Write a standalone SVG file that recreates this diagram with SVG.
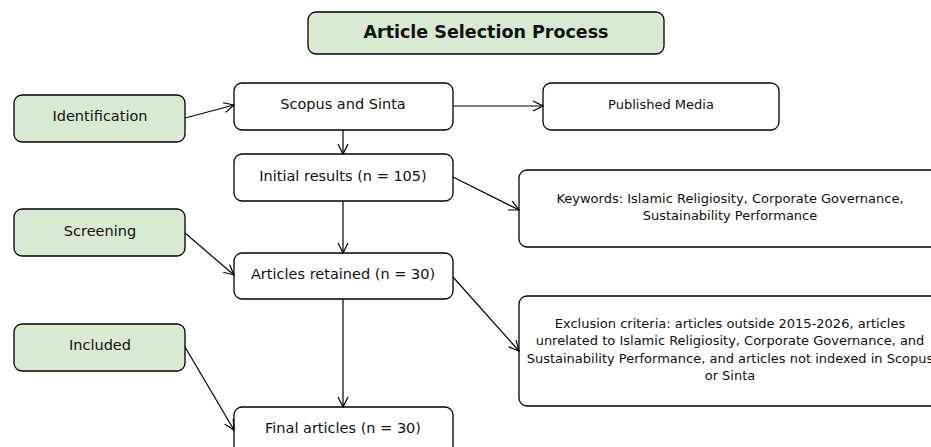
<svg xmlns="http://www.w3.org/2000/svg" width="931" height="447" viewBox="0 0 931 447">
<defs>
<style>
.box{fill:#ffffff;stroke:#000000;stroke-width:1.3}
.stage{fill:#d9ead3;stroke:#000000;stroke-width:1.3}
text{font-family:"DejaVu Sans",sans-serif;fill:#111111;text-anchor:middle}
.t13{font-size:14.5px}
.t11{font-size:13px}
.title{font-size:17.5px;font-weight:bold}
.conn line{stroke:#000000;stroke-width:1.2;fill:none;marker-end:url(#arr)}
</style>
<marker id="arr" viewBox="0 0 12 12" refX="11" refY="6" markerWidth="12" markerHeight="12" markerUnits="userSpaceOnUse" orient="auto">
<path d="M1,1 L11,6 L1,11" fill="none" stroke="#000000" stroke-width="1.2"/>
</marker>
</defs>
<rect width="931" height="447" fill="#ffffff"/>
<g id="title"><rect class="stage" x="308" y="12" width="356" height="42" rx="8"/><text class="title" x="486" y="38">Article Selection Process</text></g>
<g id="identification"><rect class="stage" x="14" y="95" width="171" height="47" rx="8"/><text class="t13" x="100" y="121">Identification</text></g>
<g id="screening"><rect class="stage" x="14" y="209" width="171" height="47" rx="8"/><text class="t13" x="100" y="236">Screening</text></g>
<g id="included"><rect class="stage" x="14" y="324" width="171" height="47" rx="8"/><text class="t13" x="100" y="350">Included</text></g>
<g id="scopus"><rect class="box" x="234" y="83" width="219" height="47" rx="8"/><text class="t13" x="343" y="109">Scopus and Sinta</text></g>
<g id="published"><rect class="box" x="543" y="83" width="236" height="47" rx="8"/><text class="t11" x="661" y="109">Published Media</text></g>
<g id="initial"><rect class="box" x="234" y="154" width="219" height="47" rx="8"/><text class="t13" x="343" y="181">Initial results (n = 105)</text></g>
<g id="keywords"><rect class="box" x="519" y="170" width="430" height="77" rx="8"/><text class="t11" x="730" y="203">Keywords: Islamic Religiosity, Corporate Governance,</text><text class="t11" x="730" y="220">Sustainability Performance</text></g>
<g id="retained"><rect class="box" x="234" y="253" width="219" height="46" rx="8"/><text class="t13" x="343" y="279">Articles retained (n = 30)</text></g>
<g id="exclusion"><rect class="box" x="519" y="296" width="430" height="110" rx="8"/><text class="t11" x="730" y="328">Exclusion criteria: articles outside 2015-2026, articles</text><text class="t11" x="730" y="345">unrelated to Islamic Religiosity, Corporate Governance, and</text><text class="t11" x="730" y="363">Sustainability Performance, and articles not indexed in Scopus</text><text class="t11" x="730" y="380">or Sinta</text></g>
<g id="final"><rect class="box" x="234" y="407" width="219" height="50" rx="8"/><text class="t13" x="343" y="433">Final articles (n = 30)</text></g>
<g id="connectors" class="conn">
<line x1="185" y1="118" x2="234" y2="105"/>
<line x1="453" y1="106" x2="543" y2="106"/>
<line x1="343" y1="130" x2="343" y2="154"/>
<line x1="453" y1="177" x2="519" y2="210"/>
<line x1="343" y1="201" x2="343" y2="253"/>
<line x1="185" y1="233" x2="234" y2="275"/>
<line x1="453" y1="277" x2="519" y2="351"/>
<line x1="343" y1="299" x2="343" y2="407"/>
<line x1="185" y1="347" x2="234" y2="430"/>
</g>
</svg>
